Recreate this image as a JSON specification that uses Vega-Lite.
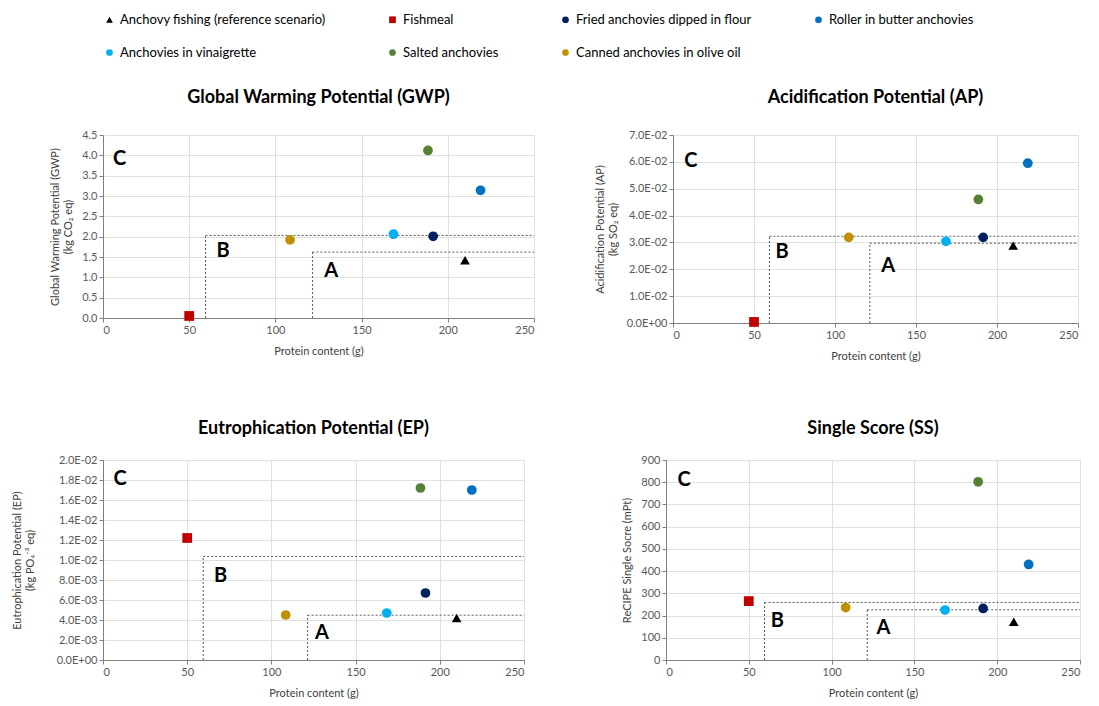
{
  "$schema": "https://vega.github.io/schema/vega-lite/v6.json",
  "padding": {"left": 11, "top": 13, "right": 5, "bottom": 5},
  "background": "white",
  "config": {
    "font": "Lato",
    "view": {"stroke": null},
    "axis": {
      "labelColor": "#595959", "labelFontSize": 11, "titleFontSize": 11, "titleFontWeight": "normal",
      "titleColor": "#404040", "gridColor": "#e0e0e0", "domainColor": "#7f7f7f", "tickColor": "#7f7f7f",
      "tickSize": 4, "labelFont": "Lato", "titleFont": "Lato"
    },
    "title": {"fontSize": 18, "fontWeight": "bold", "font": "Lato", "color": "#000000", "offset": 22},
    "legend": {
      "orient": "top", "columns": 4, "title": null, "labelFontSize": 13, "labelFont": "Lato", "labelColor": "#000000",
      "symbolSize": 45, "labelLimit": 320, "columnPadding": 60, "rowPadding": 19, "offset": 29
    },
    "concat": {"spacing": 59}
  },
  "datasets": {
    "points": [
      {"indicator": "GWP", "product": "Anchovy fishing (reference scenario)", "protein": 210, "value": 1.42},
      {"indicator": "GWP", "product": "Fishmeal", "protein": 50, "value": 0.05},
      {"indicator": "GWP", "product": "Fried anchovies dipped in flour", "protein": 191.5, "value": 2.01},
      {"indicator": "GWP", "product": "Roller in butter anchovies", "protein": 219, "value": 3.14},
      {"indicator": "GWP", "product": "Anchovies in vinaigrette", "protein": 168.5, "value": 2.06},
      {"indicator": "GWP", "product": "Salted anchovies", "protein": 188.5, "value": 4.12},
      {"indicator": "GWP", "product": "Canned anchovies in olive oil", "protein": 108.5, "value": 1.92},
      {"indicator": "AP", "product": "Anchovy fishing (reference scenario)", "protein": 210, "value": 0.0288},
      {"indicator": "AP", "product": "Fishmeal", "protein": 50, "value": 0.0004},
      {"indicator": "AP", "product": "Fried anchovies dipped in flour", "protein": 191.5, "value": 0.0319},
      {"indicator": "AP", "product": "Roller in butter anchovies", "protein": 219, "value": 0.0595},
      {"indicator": "AP", "product": "Anchovies in vinaigrette", "protein": 168.5, "value": 0.0304},
      {"indicator": "AP", "product": "Salted anchovies", "protein": 188.5, "value": 0.046},
      {"indicator": "AP", "product": "Canned anchovies in olive oil", "protein": 108.5, "value": 0.0319},
      {"indicator": "EP", "product": "Anchovy fishing (reference scenario)", "protein": 210, "value": 0.0042},
      {"indicator": "EP", "product": "Fishmeal", "protein": 50, "value": 0.0122},
      {"indicator": "EP", "product": "Fried anchovies dipped in flour", "protein": 191.5, "value": 0.0067},
      {"indicator": "EP", "product": "Roller in butter anchovies", "protein": 219, "value": 0.017},
      {"indicator": "EP", "product": "Anchovies in vinaigrette", "protein": 168.5, "value": 0.0047},
      {"indicator": "EP", "product": "Salted anchovies", "protein": 188.5, "value": 0.0172},
      {"indicator": "EP", "product": "Canned anchovies in olive oil", "protein": 108.5, "value": 0.0045},
      {"indicator": "SS", "product": "Anchovy fishing (reference scenario)", "protein": 210, "value": 172},
      {"indicator": "SS", "product": "Fishmeal", "protein": 50, "value": 265},
      {"indicator": "SS", "product": "Fried anchovies dipped in flour", "protein": 191.5, "value": 232},
      {"indicator": "SS", "product": "Roller in butter anchovies", "protein": 219, "value": 430},
      {"indicator": "SS", "product": "Anchovies in vinaigrette", "protein": 168.5, "value": 225},
      {"indicator": "SS", "product": "Salted anchovies", "protein": 188.5, "value": 802},
      {"indicator": "SS", "product": "Canned anchovies in olive oil", "protein": 108.5, "value": 236}
    ],
    "limits": [
      {"indicator": "GWP", "zone": "B", "protein": 59.5, "protein2": 250, "value": 2.03, "value2": 2.03},
      {"indicator": "GWP", "zone": "B", "protein": 59.5, "protein2": 59.5, "value": 0, "value2": 2.03},
      {"indicator": "GWP", "zone": "A", "protein": 121.5, "protein2": 250, "value": 1.62, "value2": 1.62},
      {"indicator": "GWP", "zone": "A", "protein": 121.5, "protein2": 121.5, "value": 0, "value2": 1.62},
      {"indicator": "AP", "zone": "B", "protein": 59.5, "protein2": 250, "value": 0.0323, "value2": 0.0323},
      {"indicator": "AP", "zone": "B", "protein": 59.5, "protein2": 59.5, "value": 0, "value2": 0.0323},
      {"indicator": "AP", "zone": "A", "protein": 121.5, "protein2": 250, "value": 0.0297, "value2": 0.0297},
      {"indicator": "AP", "zone": "A", "protein": 121.5, "protein2": 121.5, "value": 0, "value2": 0.0297},
      {"indicator": "EP", "zone": "B", "protein": 59.5, "protein2": 250, "value": 0.01035, "value2": 0.01035},
      {"indicator": "EP", "zone": "B", "protein": 59.5, "protein2": 59.5, "value": 0, "value2": 0.01035},
      {"indicator": "EP", "zone": "A", "protein": 121.5, "protein2": 250, "value": 0.00448, "value2": 0.00448},
      {"indicator": "EP", "zone": "A", "protein": 121.5, "protein2": 121.5, "value": 0, "value2": 0.00448},
      {"indicator": "SS", "zone": "B", "protein": 59.5, "protein2": 250, "value": 259, "value2": 259},
      {"indicator": "SS", "zone": "B", "protein": 59.5, "protein2": 59.5, "value": 0, "value2": 259},
      {"indicator": "SS", "zone": "A", "protein": 121.5, "protein2": 250, "value": 226, "value2": 226},
      {"indicator": "SS", "zone": "A", "protein": 121.5, "protein2": 121.5, "value": 0, "value2": 226}
    ],
    "zones": [
      {"indicator": "GWP", "label": "C", "protein": 9.6, "value": 3.92},
      {"indicator": "GWP", "label": "B", "protein": 69.7, "value": 1.64},
      {"indicator": "GWP", "label": "A", "protein": 132.4, "value": 1.16},
      {"indicator": "AP", "label": "C", "protein": 11, "value": 0.0603},
      {"indicator": "AP", "label": "B", "protein": 67.4, "value": 0.0263},
      {"indicator": "AP", "label": "A", "protein": 132.8, "value": 0.0214},
      {"indicator": "EP", "label": "C", "protein": 10.2, "value": 0.0181},
      {"indicator": "EP", "label": "B", "protein": 69.8, "value": 0.0084},
      {"indicator": "EP", "label": "A", "protein": 130, "value": 0.0027},
      {"indicator": "SS", "label": "C", "protein": 10.9, "value": 809},
      {"indicator": "SS", "label": "B", "protein": 67.2, "value": 175},
      {"indicator": "SS", "label": "A", "protein": 131.3, "value": 143}
    ]
  },
  "resolve": {"scale": {"color": "shared", "shape": "shared"}},
  "vconcat": [
    {
      "resolve": {"scale": {"x": "independent", "y": "independent", "color": "shared", "shape": "shared"}},
      "spacing": 59,
      "hconcat": [
        {
          "title": "Global Warming Potential (GWP)",
          "width": 431, "height": 183,
          "encoding": {
            "x": {"field": "protein", "type": "quantitative", "scale": {"domain": [0, 250], "nice": false}, "axis": {"title": "Protein content (g)", "values": [0, 50, 100, 150, 200, 250], "titlePadding": 10}},
            "y": {"field": "value", "type": "quantitative", "scale": {"domain": [0, 4.5], "nice": false}, "axis": {"title": ["Global Warming Potential (GWP)", "(kg CO₂ eq)"], "values": [0, 0.5, 1, 1.5, 2, 2.5, 3, 3.5, 4, 4.5], "format": ".1f", "titlePadding": 8}}
          },
          "layer": [
            {"data": {"name": "limits"}, "transform": [{"filter": "datum.indicator == 'GWP'"}], "mark": {"type": "rule", "strokeDash": [2, 2], "color": "#595959", "strokeWidth": 1}, "encoding": {"x2": {"field": "protein2"}, "y2": {"field": "value2"}}},
            {"data": {"name": "points"}, "transform": [{"filter": "datum.indicator == 'GWP'"}], "mark": {"type": "point", "filled": true, "opacity": 1, "size": 95}, "encoding": {
              "color": {"field": "product", "type": "nominal", "scale": {"domain": ["Anchovy fishing (reference scenario)", "Fishmeal", "Fried anchovies dipped in flour", "Roller in butter anchovies", "Anchovies in vinaigrette", "Salted anchovies", "Canned anchovies in olive oil"], "range": ["#000000", "#c00000", "#002060", "#0070c0", "#00b0f0", "#548235", "#bf9000"]}},
              "shape": {"field": "product", "type": "nominal", "scale": {"domain": ["Anchovy fishing (reference scenario)", "Fishmeal", "Fried anchovies dipped in flour", "Roller in butter anchovies", "Anchovies in vinaigrette", "Salted anchovies", "Canned anchovies in olive oil"], "range": ["triangle-up", "square", "circle", "circle", "circle", "circle", "circle"]}}
            }},
            {"data": {"name": "zones"}, "transform": [{"filter": "datum.indicator == 'GWP'"}], "mark": {"type": "text", "fontSize": 20, "fontWeight": "bold", "font": "Lato", "color": "#000000"}, "encoding": {"text": {"field": "label"}}}
          ]
        },
        {
          "title": "Acidification Potential (AP)",
          "width": 405, "height": 188,
          "encoding": {
            "x": {"field": "protein", "type": "quantitative", "scale": {"domain": [0, 250], "nice": false}, "axis": {"title": "Protein content (g)", "values": [0, 50, 100, 150, 200, 250], "titlePadding": 10}},
            "y": {"field": "value", "type": "quantitative", "scale": {"domain": [0, 0.07], "nice": false}, "axis": {"title": ["Acidification Potential (AP)", "(kg SO₂ eq)"], "values": [0, 0.01, 0.02, 0.03, 0.04, 0.05, 0.06, 0.07], "labelExpr": "datum.value == 0 ? '0.0E+00' : format(datum.value * 100, '.1f') + 'E-02'", "titlePadding": 8}}
          },
          "layer": [
            {"data": {"name": "limits"}, "transform": [{"filter": "datum.indicator == 'AP'"}], "mark": {"type": "rule", "strokeDash": [2, 2], "color": "#595959", "strokeWidth": 1}, "encoding": {"x2": {"field": "protein2"}, "y2": {"field": "value2"}}},
            {"data": {"name": "points"}, "transform": [{"filter": "datum.indicator == 'AP'"}], "mark": {"type": "point", "filled": true, "opacity": 1, "size": 95}, "encoding": {
              "color": {"field": "product", "type": "nominal"},
              "shape": {"field": "product", "type": "nominal"}
            }},
            {"data": {"name": "zones"}, "transform": [{"filter": "datum.indicator == 'AP'"}], "mark": {"type": "text", "fontSize": 20, "fontWeight": "bold", "font": "Lato", "color": "#000000"}, "encoding": {"text": {"field": "label"}}}
          ]
        }
      ]
    },
    {
      "resolve": {"scale": {"x": "independent", "y": "independent", "color": "shared", "shape": "shared"}},
      "spacing": 96,
      "hconcat": [
        {
          "title": {"text": "Eutrophication Potential (EP)", "offset": 16},
          "width": 421, "height": 200,
          "encoding": {
            "x": {"field": "protein", "type": "quantitative", "scale": {"domain": [0, 250], "nice": false}, "axis": {"title": "Protein content (g)", "values": [0, 50, 100, 150, 200, 250], "titlePadding": 10}},
            "y": {"field": "value", "type": "quantitative", "scale": {"domain": [0, 0.02], "nice": false}, "axis": {"title": ["Eutrophication Potential (EP)", "(kg PO₄⁻³ eq)"], "values": [0, 0.002, 0.004, 0.006, 0.008, 0.01, 0.012, 0.014, 0.016, 0.018, 0.02], "labelExpr": "datum.value == 0 ? '0.0E+00' : (datum.value > 0.0099 ? format(datum.value * 100, '.1f') + 'E-02' : format(datum.value * 1000, '.1f') + 'E-03')", "titlePadding": 21}}
          },
          "layer": [
            {"data": {"name": "limits"}, "transform": [{"filter": "datum.indicator == 'EP'"}], "mark": {"type": "rule", "strokeDash": [2, 2], "color": "#595959", "strokeWidth": 1}, "encoding": {"x2": {"field": "protein2"}, "y2": {"field": "value2"}}},
            {"data": {"name": "points"}, "transform": [{"filter": "datum.indicator == 'EP'"}], "mark": {"type": "point", "filled": true, "opacity": 1, "size": 95}, "encoding": {
              "color": {"field": "product", "type": "nominal"},
              "shape": {"field": "product", "type": "nominal"}
            }},
            {"data": {"name": "zones"}, "transform": [{"filter": "datum.indicator == 'EP'"}], "mark": {"type": "text", "fontSize": 20, "fontWeight": "bold", "font": "Lato", "color": "#000000"}, "encoding": {"text": {"field": "label"}}}
          ]
        },
        {
          "title": {"text": "Single Score (SS)", "offset": 16},
          "width": 414, "height": 200,
          "encoding": {
            "x": {"field": "protein", "type": "quantitative", "scale": {"domain": [0, 250], "nice": false}, "axis": {"title": "Protein content (g)", "values": [0, 50, 100, 150, 200, 250], "titlePadding": 10}},
            "y": {"field": "value", "type": "quantitative", "scale": {"domain": [0, 900], "nice": false}, "axis": {"title": "ReCIPE Single Socre (mPt)", "values": [0, 100, 200, 300, 400, 500, 600, 700, 800, 900], "titlePadding": 8}}
          },
          "layer": [
            {"data": {"name": "limits"}, "transform": [{"filter": "datum.indicator == 'SS'"}], "mark": {"type": "rule", "strokeDash": [2, 2], "color": "#595959", "strokeWidth": 1}, "encoding": {"x2": {"field": "protein2"}, "y2": {"field": "value2"}}},
            {"data": {"name": "points"}, "transform": [{"filter": "datum.indicator == 'SS'"}], "mark": {"type": "point", "filled": true, "opacity": 1, "size": 95}, "encoding": {
              "color": {"field": "product", "type": "nominal"},
              "shape": {"field": "product", "type": "nominal"}
            }},
            {"data": {"name": "zones"}, "transform": [{"filter": "datum.indicator == 'SS'"}], "mark": {"type": "text", "fontSize": 20, "fontWeight": "bold", "font": "Lato", "color": "#000000"}, "encoding": {"text": {"field": "label"}}}
          ]
        }
      ]
    }
  ]
}
